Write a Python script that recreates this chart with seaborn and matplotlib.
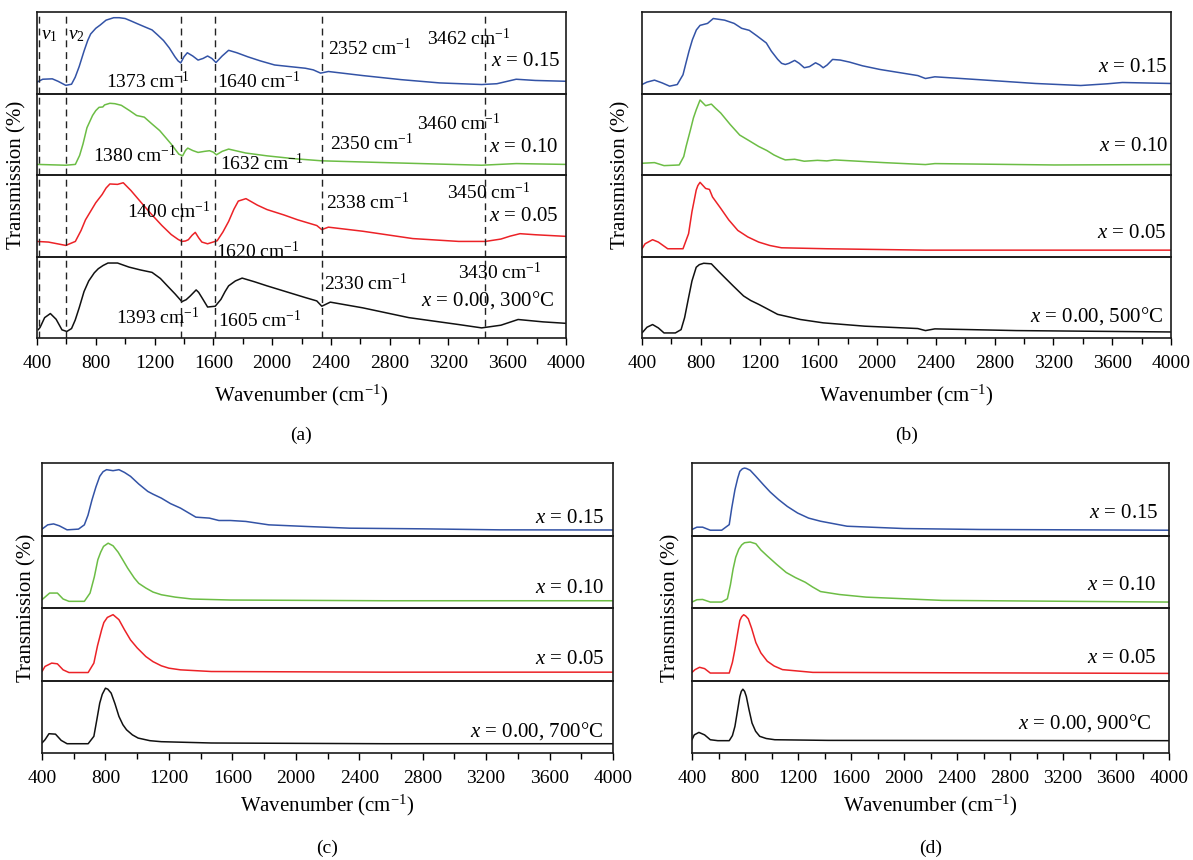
import matplotlib
matplotlib.use("Agg")
import matplotlib.pyplot as plt
import seaborn as sns
import pandas as pd
from matplotlib.ticker import MultipleLocator

# ---------------- data (T in % of strip height) ----------------
# Panel (a) 300 C
a15_wn = [400, 439, 504, 543, 596, 635, 660, 687, 720, 745, 765, 800, 830, 850, 870, 922, 960, 1000, 1040, 1078, 1130, 1183, 1220, 1261, 1300, 1339, 1360, 1378, 1400, 1423, 1460, 1496, 1530, 1561, 1590, 1618, 1660, 1704, 1760, 1835, 1920, 2017, 2120, 2226, 2280, 2330, 2383, 2617, 2878, 3139, 3426, 3530, 3661, 3791, 4000]
a15_t = [14, 17.5, 18, 15, 10, 11.4, 20, 33, 52, 65, 73, 80, 84, 87, 90, 93, 93, 92, 89, 86, 82, 78, 72, 65, 56, 45, 40, 37.5, 45, 50, 46, 41, 43, 46, 43, 38, 46, 53, 50, 45, 40, 35, 33, 31, 29, 25, 27, 22, 17, 13, 11, 12, 17.5, 16, 15]
a10_wn = [400, 596, 661, 690, 713, 740, 778, 800, 822, 848, 860, 896, 930, 974, 1030, 1078, 1130, 1180, 1235, 1280, 1313, 1365, 1391, 1410, 1426, 1460, 1496, 1540, 1574, 1600, 1621, 1660, 1704, 1820, 1965, 2150, 2338, 2748, 3426, 3661, 4000]
a10_t = [13, 12, 13, 24, 38, 58, 73, 79, 83, 83.5, 86, 88, 87.5, 85.5, 79, 73, 71, 63, 54.5, 45, 38, 25.6, 23.5, 30, 33, 30, 27.7, 29, 29.8, 28, 24.8, 29, 31.8, 27, 23.5, 20, 17.4, 15.3, 12, 14, 13]
a05_wn = [400, 478, 596, 661, 700, 730, 765, 800, 843, 870, 896, 948, 987, 1039, 1110, 1183, 1250, 1313, 1360, 1386, 1410, 1430, 1455, 1477, 1500, 1522, 1561, 1626, 1665, 1704, 1740, 1770, 1822, 1900, 1965, 2080, 2174, 2304, 2338, 2383, 2617, 2957, 3270, 3452, 3557, 3620, 3687, 3791, 4000]
a05_t = [18.5, 17.7, 13.6, 18.5, 32, 45, 55.5, 66, 76, 84, 89, 88.5, 90.5, 81, 66, 51, 38, 27, 21, 18.5, 19, 20.6, 26, 29.6, 23, 17.7, 15.6, 19.3, 30, 43, 58, 68, 71, 63, 57.6, 51, 45, 38, 33, 36, 31, 22, 18.5, 18.5, 21.4, 25, 28, 26.7, 24.7]
a00_wn = [408, 421, 452, 491, 530, 570, 603, 635, 660, 687, 720, 752, 790, 817, 850, 883, 948, 1026, 1104, 1183, 1240, 1287, 1340, 1386, 1415, 1443, 1483, 1500, 1522, 1561, 1613, 1652, 1680, 1704, 1750, 1796, 1880, 1965, 2226, 2304, 2338, 2396, 2617, 2930, 3270, 3426, 3557, 3674, 3843, 4000]
a00_t = [10, 13, 25, 30, 23, 10, 8, 11.6, 22, 37, 57, 70, 80, 85, 89, 92, 92, 87, 83.5, 80.5, 73, 64, 54, 44.6, 47, 51.6, 59, 56, 49.6, 38, 39, 47.5, 57, 64, 70, 73.5, 69, 64, 49.6, 45.5, 39, 44, 37, 25, 16.5, 12.4, 15.7, 22.7, 19.8, 18]
a_marks = [415, 600, 1380, 1610, 2340, 3450]

# Panel (b) 500 C
b15_wn = [400, 434, 485, 537, 588, 640, 679, 700, 720, 743, 770, 795, 846, 885, 962, 1027, 1078, 1130, 1180, 1246, 1280, 1323, 1350, 1375, 1400, 1439, 1470, 1504, 1540, 1581, 1610, 1633, 1660, 1697, 1750, 1813, 1900, 2019, 2277, 2329, 2393, 2690, 3077, 3386, 3566, 3669, 4000]
b15_t = [11, 14, 16.4, 13, 9, 11, 23, 38, 52, 66, 78, 83.6, 86, 92, 90, 86, 80, 77.5, 71, 62, 52, 42, 37, 35.6, 37, 40.6, 37, 31.6, 33, 37.7, 35, 31.6, 35, 41.8, 41, 38.5, 34, 29.5, 22, 18.4, 20.5, 17, 12.3, 9.8, 11.9, 13.5, 12.3]
b10_wn = [400, 485, 550, 653, 684, 700, 730, 750, 769, 795, 833, 872, 900, 936, 1000, 1065, 1130, 1194, 1250, 1297, 1340, 1375, 1439, 1504, 1594, 1658, 1710, 2045, 2329, 2393, 3206, 4000]
b10_t = [14.4, 15.2, 11.5, 12.3, 22.6, 35, 55.6, 70, 80, 92, 85, 87, 82, 76, 62, 49, 42, 35, 30, 24.7, 21, 18.5, 19.3, 16.9, 18, 17.3, 18.5, 15.2, 12.8, 14, 12.3, 12.8]
b05_wn = [400, 421, 472, 511, 575, 679, 717, 740, 769, 780, 795, 833, 859, 880, 936, 990, 1052, 1120, 1194, 1270, 1349, 1658, 2329, 4000]
b05_t = [9.5, 15.6, 20.6, 17.7, 9.5, 9.5, 28, 55, 81.5, 87, 91, 83.5, 82.3, 73, 59, 45, 32, 24, 17.7, 13.5, 10.7, 9.5, 7.8, 7.8]
b00_wn = [400, 434, 472, 511, 550, 627, 666, 690, 717, 740, 769, 790, 820, 872, 920, 962, 1020, 1091, 1140, 1194, 1250, 1323, 1478, 1633, 1917, 2277, 2329, 2393, 2948, 4000]
b00_t = [6.2, 13.2, 16.5, 12.4, 6.2, 6.2, 10.3, 25, 49.6, 70, 86.8, 90, 91.7, 91, 82, 74.4, 64, 51.6, 46, 41.3, 36, 29, 22.7, 18.6, 14.5, 11.6, 9.1, 11.2, 9.1, 7.4]

# Panel (c) 700 C
c15_wn = [400, 436, 473, 509, 558, 630, 667, 690, 715, 740, 764, 785, 807, 848, 885, 920, 958, 1010, 1067, 1100, 1152, 1210, 1273, 1370, 1455, 1515, 1588, 1685, 1830, 2073, 2339, 2800, 3285, 4000]
c15_t = [8.8, 14.7, 16, 13.4, 7.8, 8.8, 14.7, 28, 49, 67, 81.6, 88, 90.8, 89.4, 90.8, 87, 81.6, 71, 60.8, 57, 51.6, 44, 37.8, 25.3, 24, 20.7, 20.7, 19.4, 14.7, 12.4, 10.1, 9.2, 7.8, 7.6]
c10_wn = [400, 424, 448, 497, 533, 570, 667, 703, 730, 752, 770, 788, 817, 848, 880, 909, 940, 982, 1010, 1055, 1100, 1152, 1240, 1345, 1588, 2558, 4000]
c10_t = [11.5, 16, 20.6, 20.6, 12.4, 9.2, 9.2, 20.6, 43, 66.5, 77, 85, 89.4, 85.8, 77, 66.5, 55, 41.3, 34, 27.5, 22, 18.3, 15, 12.4, 11, 10, 10]
c05_wn = [400, 419, 461, 497, 533, 570, 691, 727, 750, 776, 790, 812, 848, 885, 920, 958, 1000, 1055, 1100, 1152, 1200, 1273, 1467, 2558, 4000]
c05_t = [12.4, 19.4, 24, 23, 14.7, 11, 11, 24, 48, 70, 80, 87, 90.8, 83.9, 70, 56, 45, 33, 26, 20.3, 17, 14.7, 12.4, 11.5, 11.5]
c00_wn = [400, 419, 444, 485, 521, 558, 691, 727, 745, 764, 780, 800, 815, 836, 860, 885, 910, 933, 970, 1006, 1080, 1152, 1467, 2558, 4000]
c00_t = [13.8, 18.3, 26.6, 26, 17.4, 12.8, 12.8, 23, 45, 68.8, 81, 89.4, 88, 82.6, 68, 50.5, 39, 32, 25, 20.6, 17, 15.6, 13.8, 12.8, 12.8]

# Panel (d) 900 C
d15_wn = [400, 437, 480, 538, 624, 681, 700, 724, 745, 761, 780, 796, 810, 839, 880, 939, 990, 1054, 1120, 1197, 1280, 1370, 1570, 2001, 2574, 4000]
d15_t = [8.3, 11.5, 11.5, 7.3, 7.3, 15, 38, 63, 79, 88.5, 92, 93, 92.5, 90, 82, 70, 60, 49.5, 40, 31, 24, 19.7, 12.8, 9.6, 8.3, 7.3]
d10_wn = [400, 437, 480, 538, 624, 667, 690, 710, 730, 753, 775, 796, 839, 882, 920, 968, 1040, 1111, 1180, 1255, 1310, 1370, 1513, 1714, 2287, 4000]
d10_t = [8.2, 11.4, 11.8, 8.2, 8.2, 12.7, 32, 53.6, 70, 81, 87, 90, 91, 88.6, 80, 71.8, 60, 49, 42, 35.5, 29, 22.7, 18.6, 15, 10.5, 8.2]
d05_wn = [400, 423, 457, 495, 538, 681, 705, 724, 745, 761, 775, 790, 805, 825, 850, 882, 920, 968, 1020, 1083, 1312, 4000]
d05_t = [11.2, 15, 18.2, 16.4, 10.3, 10.3, 25, 43, 66, 82.7, 88, 90.7, 89, 85, 72, 52.3, 38, 26.6, 20, 15, 11.2, 9.8]
d00_wn = [400, 417, 452, 495, 538, 595, 681, 705, 724, 745, 761, 772, 784, 797, 810, 830, 853, 880, 911, 960, 1025, 1427, 4000]
d00_t = [18.3, 25, 28.4, 25, 18.3, 17, 17, 24, 36.7, 60, 78, 85, 88, 85, 78, 60, 41.3, 30, 23, 20, 18.3, 17.4, 17]

sample_labels = ["$x$ = 0.15", "$x$ = 0.10", "$x$ = 0.05"]
temps = ["300°C", "500°C", "700°C", "900°C"]
colors = ["#3353a6", "#6cbd45", "#ec2227", "#111111"]

# ---------------- style ----------------
sns.set_theme(style="white")
plt.rcParams["font.family"] = ["Liberation Serif", "DejaVu Serif"]
plt.rcParams["mathtext.fontset"] = "custom"
plt.rcParams["mathtext.rm"] = "Liberation Serif"
plt.rcParams["mathtext.it"] = "Liberation Serif:italic"
plt.rcParams["text.color"] = "black"
plt.rcParams["axes.labelcolor"] = "black"
plt.rcParams["xtick.color"] = "black"
plt.rcParams["axes.edgecolor"] = "black"

W, H = 1193, 860
FS = 14
FL = 15
fig = plt.figure(figsize=(W / 100, H / 100), dpi=100)


def add_panel(rect, series, labels, lab_x, lab_y, annotations=None, marks=None):
    l, t, r, b = rect
    h = (b - t) / 4.0
    for i, (wn, tr) in enumerate(series):
        top = t + i * h
        ax = fig.add_axes([l / W, 1 - (top + h) / H, (r - l) / W, h / H])
        ax.set_facecolor("none")
        df = pd.DataFrame({"wn": wn, "T": tr})
        sns.lineplot(data=df, x="wn", y="T", ax=ax, color=colors[i],
                     linewidth=1.1, estimator=None, sort=False)
        ax.set_xlim(400, 4000)
        ax.set_ylim(0, 100)
        ax.set_xlabel("")
        ax.set_ylabel("")
        ax.set_yticks([])
        for s in ax.spines.values():
            s.set_linewidth(1.2)
            s.set_color("#1a1a1a")
        if marks is not None:
            for m in marks:
                ax.axvline(m, color="#222222", lw=1.0, ls=(0, (5, 3.5)))
        ax.text(lab_x[i], lab_y[i], labels[i], ha="right", va="center", fontsize=FL)
        if annotations is not None:
            for txt, x, y in annotations[i]:
                ax.text(x, y, txt, ha="left", va="center", fontsize=FS, clip_on=False, zorder=5)
        ax.xaxis.set_major_locator(MultipleLocator(400))
        ax.xaxis.set_minor_locator(MultipleLocator(200))
        if i < 3:
            ax.tick_params(axis="x", which="both", bottom=False, labelbottom=False)
        else:
            ax.tick_params(axis="x", which="major", bottom=True, direction="out",
                           length=5, width=1, labelsize=FS, pad=7)
            ax.tick_params(axis="x", which="minor", bottom=True, direction="out",
                           length=4, width=1)
    return (l + r) / 2.0


cm = " cm$^{-1}$"
ann_a = [
    [("$\\nu_1$", 426, 71), ("$\\nu_2$", 609, 71), ("1373" + cm, 870, 15), ("1640" + cm, 1626, 15),
     ("2352" + cm, 2383, 55), ("3462" + cm, 3057, 67)],
    [("1380" + cm, 778, 23.5), ("1632" + cm, 1645, 14.5), ("2350" + cm, 2396, 39), ("3460" + cm, 2987, 63)],
    [("1400" + cm, 1013, 55.5), ("1620" + cm, 1621, 6), ("2338" + cm, 2365, 66), ("3450" + cm, 3191, 79)],
    [("1393" + cm, 935, 25), ("1605" + cm, 1634, 21), ("2330" + cm, 2351, 67), ("3430" + cm, 3262, 80)],
]

panels = [
    ((37, 12, 566, 338), [(a15_wn, a15_t), (a10_wn, a10_t), (a05_wn, a05_t), (a00_wn, a00_t)],
     [3961, 3948, 3948, 3922], [39, 34, 49, 46], ann_a, a_marks, "(a)", 17, 395, 435),
    ((642, 12, 1171, 338), [(b15_wn, b15_t), (b10_wn, b10_t), (b05_wn, b05_t), (b00_wn, b00_t)],
     [3979, 3979, 3971, 3946], [31.5, 35, 28, 27], None, None, "(b)", 621, 395, 435),
    ((42, 463, 613, 753), [(c15_wn, c15_t), (c10_wn, c10_t), (c05_wn, c05_t), (c00_wn, c00_t)],
     [3945, 3945, 3945, 3935], [24, 27.5, 29.5, 30], None, None, "(c)", 27, 805, 848),
    ((692, 463, 1169, 753), [(d15_wn, d15_t), (d10_wn, d10_t), (d05_wn, d05_t), (d00_wn, d00_t)],
     [3923, 3908, 3908, 3865], [31, 31, 30, 41], None, None, "(d)", 671, 805, 848),
]

for k, (rect, series, lx, ly, ann, marks, cap, ylx, xly, capy) in enumerate(panels):
    labels = sample_labels + ["$x$ = 0.00, " + temps[k]]
    cx = add_panel(rect, series, labels, lx, ly, ann, marks)
    cy = (rect[1] + rect[3]) / 2.0
    fig.text(cx / W, 1 - xly / H, "Wavenumber (cm$^{-1}$)", ha="center", va="center", fontsize=FL)
    fig.text(cx / W, 1 - capy / H, cap, ha="center", va="center", fontsize=FS)
    fig.text(ylx / W, 1 - cy / H, "Transmission (%)", ha="center", va="center",
             rotation=90, fontsize=FL)

fig.savefig("out.png", dpi=100)
